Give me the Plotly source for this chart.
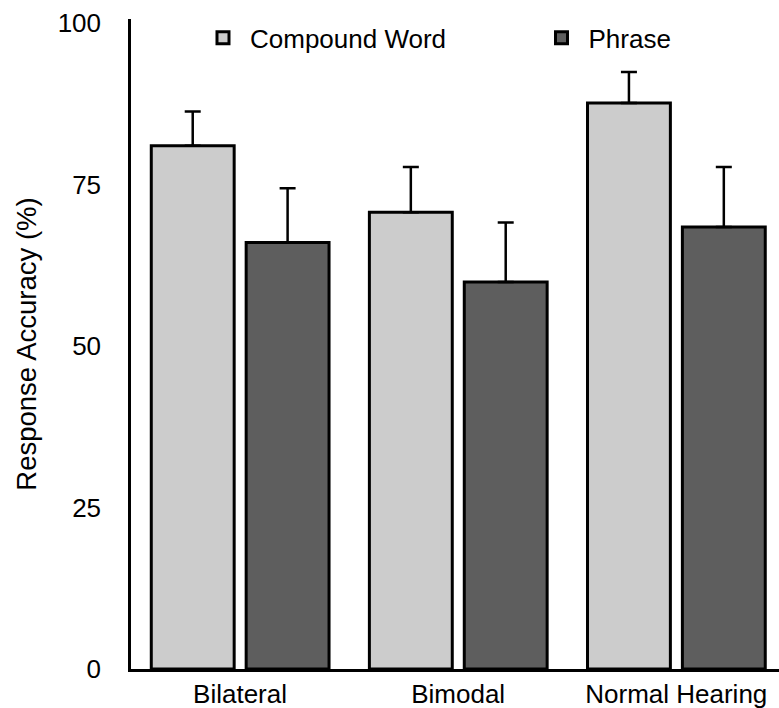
import plotly.graph_objects as go

categories = ["Bilateral", "Bimodal", "Normal Hearing"]
compound_vals = [81.0, 70.7, 87.6]
compound_err = [5.3, 7.0, 4.8]
phrase_vals = [66.0, 59.9, 68.4]
phrase_err = [8.4, 9.2, 9.3]
y_ticks = [0, 25, 50, 75, 100]

FONT = "Liberation Sans, Arial, Helvetica, sans-serif"
xpos = list(range(len(categories)))

fig = go.Figure()
fig.add_trace(go.Bar(
    name="Compound Word", x=xpos, y=compound_vals, width=0.38, offset=-0.407,
    marker=dict(color="#cccccc", line=dict(color="black", width=3)),
    error_y=dict(type="data", symmetric=False, array=compound_err,
                 arrayminus=[0] * 3, thickness=2.5, width=8, color="black"),
    legend="legend",
))
fig.add_trace(go.Bar(
    name="Phrase", x=xpos, y=phrase_vals, width=0.38, offset=0.028,
    marker=dict(color="#5e5e5e", line=dict(color="black", width=3)),
    error_y=dict(type="data", symmetric=False, array=phrase_err,
                 arrayminus=[0] * 3, thickness=2.5, width=8, color="black"),
    legend="legend2",
))

leg_common = dict(orientation="h", xanchor="left", y=0.971, yanchor="middle",
                  itemwidth=44, font=dict(size=26), bgcolor="rgba(0,0,0,0)",
                  itemclick=False, itemdoubleclick=False)

fig.update_layout(
    template="none",
    width=779, height=708,
    margin=dict(l=131, r=0, t=19, b=39, autoexpand=False),
    paper_bgcolor="white", plot_bgcolor="white",
    font=dict(family=FONT, size=26, color="black"),
    showlegend=True,
    legend=dict(x=0.1003, **leg_common),
    legend2=dict(x=0.6227, **leg_common),
    xaxis=dict(range=[-0.5, 2.471], tickmode="array", tickvals=xpos, ticktext=categories,
               showline=True, linecolor="black", linewidth=2.5, showgrid=False,
               zeroline=False, ticks="", ticklabelstandoff=0, automargin=False,
               fixedrange=True),
    yaxis=dict(range=[0, 100.6], tickmode="array", tickvals=y_ticks,
               showline=True, linecolor="black", linewidth=2.5, showgrid=False,
               zeroline=False, ticks="", ticklabelstandoff=22, automargin=False,
               title=dict(text="Response Accuracy (%)", standoff=14, font=dict(size=27.5)),
               fixedrange=True),
)

fig.write_html("out.html")
